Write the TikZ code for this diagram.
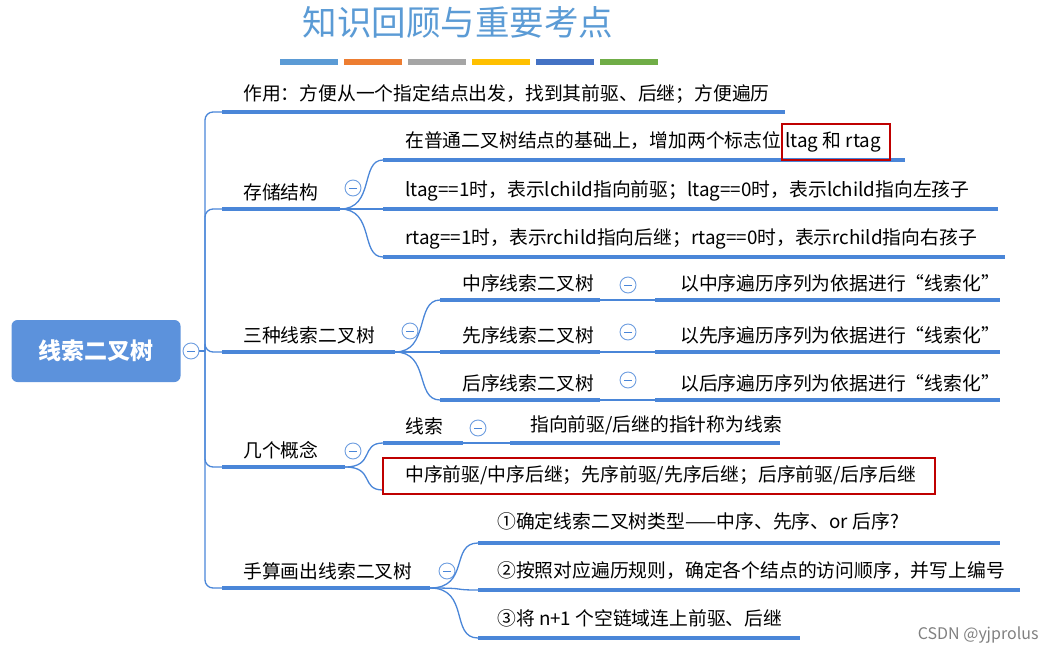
\documentclass[tikz,border=0pt]{standalone}
\usepackage{fontspec}
\setmainfont{Noto Sans CJK SC}
\begin{document}
\begin{tikzpicture}[x=1pt,y=-1pt,
  bl/.style={line width=3.5pt,draw=lineblue},
  br/.style={line width=1.3pt,draw=lineblue,rounded corners=8pt},
  tx/.style={anchor=south west,inner sep=0pt,font=\fontsize{18.8}{20}\selectfont},
  col/.style={circle,draw=lineblue!80,line width=0.9pt,minimum size=16pt,inner sep=0pt,fill=white}]
\definecolor{lineblue}{HTML}{4A86D8}
\definecolor{titleblue}{HTML}{5B9BD5}
\useasboundingbox (0,0) rectangle (1056,655);
\node[font=\fontsize{34.5}{36}\selectfont,text=titleblue] (title) at (458,22) {知识回顾与重要考点};
\foreach \c [count=\i] in {5B9BD5,ED7D31,A5A5A5,FFC000,4472C4,70AD47}{
  \definecolor{bar}{HTML}{\c}
  \fill[bar] ({280+(\i-1)*64},59) rectangle ++(58,6);
}
% root
\node[fill=lineblue!90,rounded corners=6pt,minimum width=169pt,minimum height=62pt,text=white,font=\fontsize{23}{25}\selectfont\bfseries] (root) at (96,351) {线索二叉树};
\node[col] (c0) at (191,351) {\tikz[x=1pt,y=1pt]\draw[lineblue,line width=0.8pt](-4,0)--(4,0);};
\coordinate (t) at (205,351);
\draw[br] (c0.east) -- (t);
% level 1
\foreach \y/\xe in {112/785,209/340,352/395,467/345,588/430}{
  \draw[br] (t) |- (222,\y);
  \draw[bl] (222,\y) -- (\xe,\y);
}
\node[tx] (a1) at (243,104) {作用：方便从一个指定结点出发，找到其前驱、后继；方便遍历};
\node[tx] (a2) at (243,201) {存储结构};
\node[tx] (a3) at (243,344) {三种线索二叉树};
\node[tx] (a4) at (243,459) {几个概念};
\node[tx] (a5) at (243,580) {手算画出线索二叉树};
% collapse circles
\foreach \n/\x/\y in {k2/353/188,k3/410/331,k4/353/451,k5/447/571,m1/628/285,m2/628/332,m3/628/380,m4/478/428}{
  \node[col] (\n) at (\x,\y) {\tikz[x=1pt,y=1pt]\draw[lineblue,line width=0.8pt](-4,0)--(4,0);};
}
% storage
\foreach \y/\xe in {160/905,209/998,257/1005}{
  \draw[br,rounded corners=0pt] (340,209) .. controls (375,209) and (360,\y) .. (383,\y);
  \draw[bl] (383,\y) -- (\xe,\y);
}
\node[tx] (b1) at (405,152) {在普通二叉树结点的基础上，增加两个标志位 ltag 和 rtag};
\draw[draw=red!75!black,line width=1.5pt] (782,124) rectangle (890,160);
\node[tx] (b2) at (405,201) {ltag==1时，表示lchild指向前驱；ltag==0时，表示lchild指向左孩子};
\node[tx] (b3) at (405,249) {rtag==1时，表示rchild指向后继；rtag==0时，表示rchild指向右孩子};
% three
\foreach \y in {300,352,400}{
  \draw[br,rounded corners=0pt] (395,352) .. controls (430,352) and (415,\y) .. (440,\y);
  \draw[bl] (440,\y) -- (600,\y);
  \draw[br] (600,\y) -- (655,\y);
  \draw[bl] (655,\y) -- (1000,\y);
}
\node[tx] (d1) at (462,292) {中序线索二叉树};
\node[tx] (d2) at (462,344) {先序线索二叉树};
\node[tx] (d3) at (462,392) {后序线索二叉树};
\node[tx] (e1) at (680,292) {以中序遍历序列为依据进行“线索化”};
\node[tx] (e2) at (680,344) {以先序遍历序列为依据进行“线索化”};
\node[tx] (e3) at (680,392) {以后序遍历序列为依据进行“线索化”};
% concepts
\draw[br,rounded corners=0pt] (345,467) .. controls (375,467) and (360,443) .. (383,443);
\draw[br,rounded corners=0pt] (345,467) .. controls (375,467) and (360,490) .. (383,490);
\draw[bl] (383,443) -- (463,443);
\draw[br] (463,443) -- (510,443);
\draw[bl] (510,443) -- (780,443);
\node[tx] (f1) at (405,435) {线索};
\node[tx] (f2) at (530,435) {指向前驱/后继的指针称为线索};
\draw[bl] (383,490) -- (935,490);
\draw[draw=red!75!black,line width=1.5pt,fill=white] (383,458) rectangle (935,494);
\node[tx] (f3) at (405,485) {中序前驱/中序后继；先序前驱/先序后继；后序前驱/后序后继};
% manual
\foreach \y/\xe in {543/1000,590/1020,638/800}{
  \draw[br,rounded corners=0pt] (430,588) .. controls (470,588) and (450,\y) .. (478,\y);
  \draw[bl] (478,\y) -- (\xe,\y);
}
\node[tx] (g1) at (497,530) {①确定线索二叉树类型——中序、先序、or 后序?};
\node[tx] (g2) at (497,580) {②按照对应遍历规则，确定各个结点的访问顺序，并写上编号};
\node[tx] (g3) at (497,627) {③将 n+1 个空链域连上前驱、后继};
\node[anchor=east,text=gray,font=\fontsize{16}{17}\selectfont] (w) at (1042,635) {CSDN @yjprolus};
\end{tikzpicture}
\end{document}
